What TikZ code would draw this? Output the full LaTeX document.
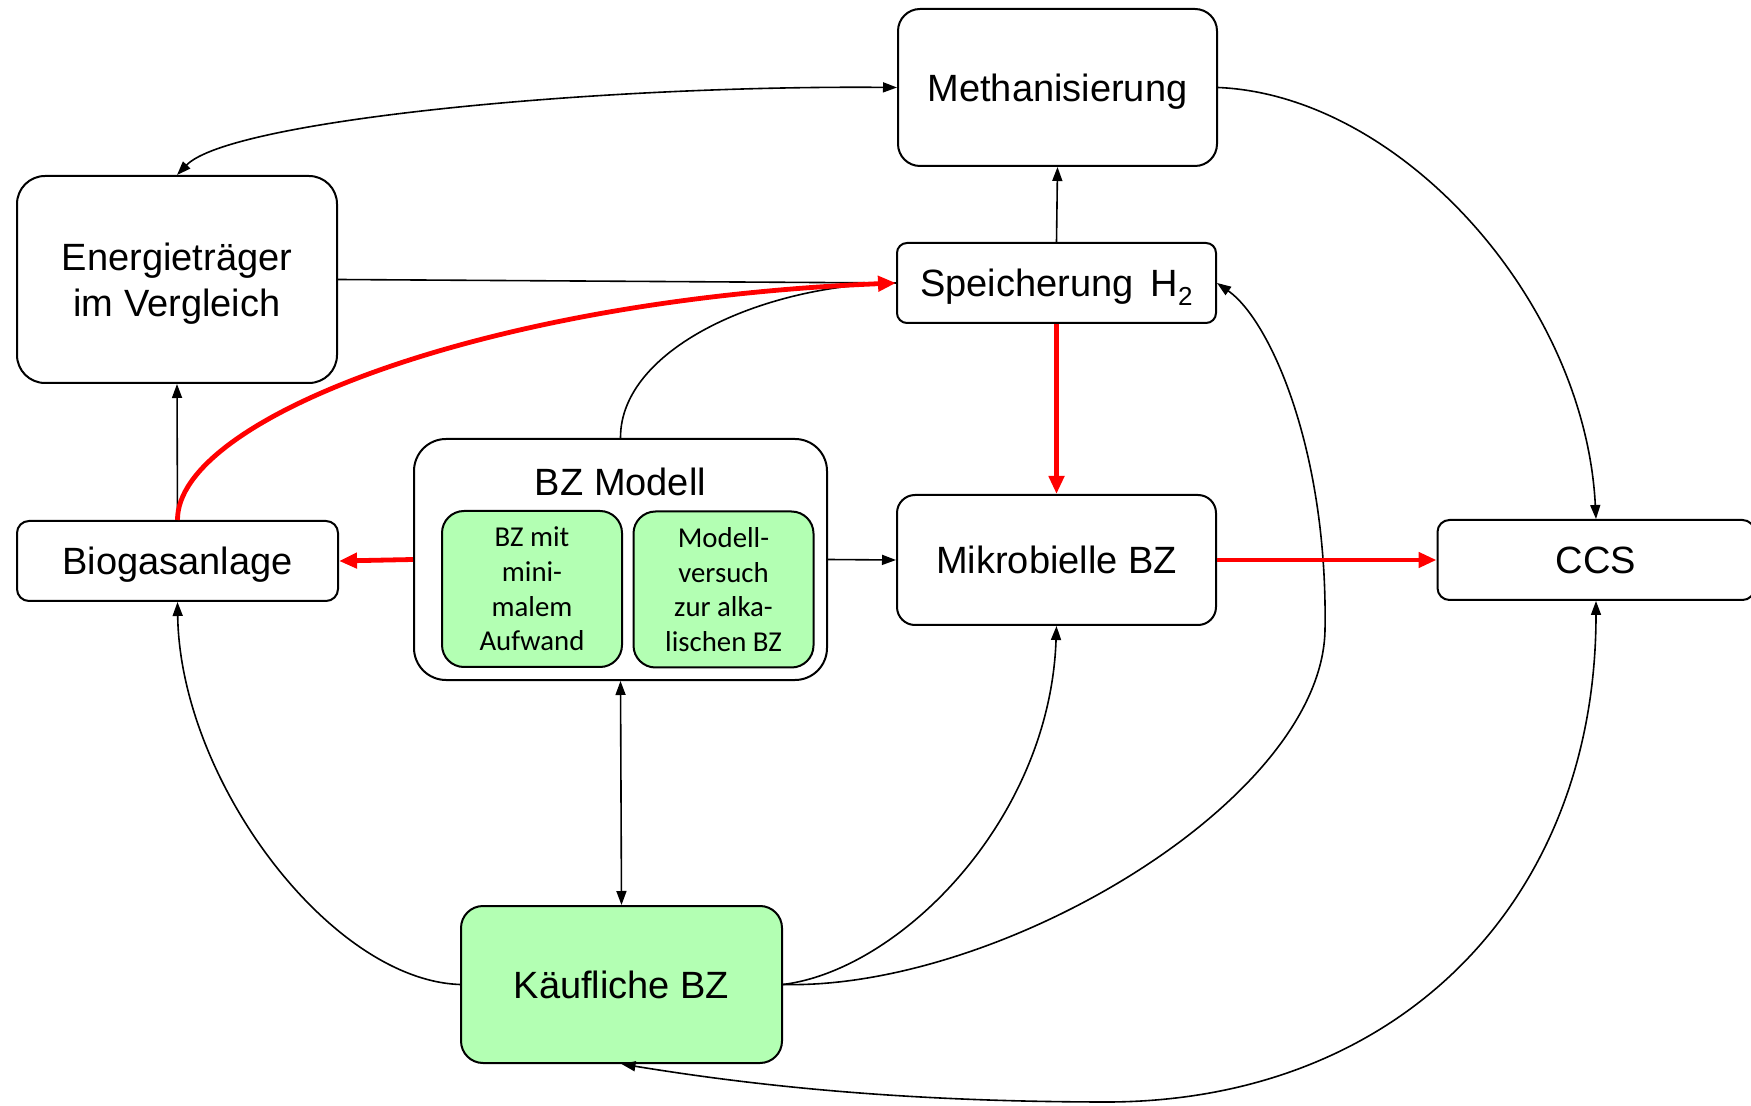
\documentclass[tikz,border=0pt]{standalone}
\usepackage{fontspec}
\setmainfont{Liberation Sans}
\newfontfamily\calib{Carlito}
\usetikzlibrary{arrows.meta}
\definecolor{boxgreen}{RGB}{179,255,179}
\definecolor{linkred}{RGB}{255,0,0}

\begin{document}
\begin{tikzpicture}[x=0.5pt,y=-0.5pt,
  box/.style={draw=black, line width=1pt, inner sep=0pt, align=center,
    font=\fontsize{19}{23}\selectfont},
  subbox/.style={box, fill=boxgreen, rounded corners=11pt,
    minimum width=90pt, minimum height=78pt,
    font=\calib\fontsize{14.4}{17.3}\selectfont},
  plain/.style={draw=black, line width=0.8pt},
  link/.style={plain, -{Triangle[length=7pt,width=5pt]}},
  both/.style={plain, {Triangle[length=7pt,width=5pt]}-{Triangle[length=7pt,width=5pt]}},
  hot/.style={draw=linkred, line width=2.4pt, -{Triangle[length=9pt,width=7.5pt]}}]

\useasboundingbox (0,0) rectangle (1751,1106);

% boxes
\node[box, rounded corners=11pt, minimum width=159.5pt, minimum height=78.5pt, text depth=0pt]
  (meth) at (1057.5,87.5) {Methanisierung};
\node[box, rounded corners=5pt, minimum width=159.5pt, minimum height=40pt, text depth=0pt]
  (spei) at (1056.5,283) {Speicherung\hspace{0.45em}H\raisebox{-0.45ex}{\fontsize{13}{13}\selectfont 2}};
\node[box, rounded corners=14pt, minimum width=160pt, minimum height=103.5pt, text depth=0pt]
  (energ) at (177,279.5) {Energieträger\\im Vergleich};
\node[box, rounded corners=6pt, minimum width=160.5pt, minimum height=40pt, text depth=0pt]
  (bio) at (177.5,561) {Biogasanlage};
\node[box, rounded corners=16pt, minimum width=206.5pt, minimum height=120.5pt]
  (model) at (620.5,559.5) {};
\node[font=\fontsize{19}{23}\selectfont, inner sep=0pt] (modeltitle) at (620.5,482) {BZ Modell};
\node[subbox] (simple) at (532,589) {BZ mit\\mini-\\malem\\Aufwand};
\node[subbox] (alkal) at (723.5,589.5) {Modell-\\versuch\\zur alka-\\lischen BZ};
\node[box, rounded corners=9pt, minimum width=159.5pt, minimum height=65pt]
  (mikro) at (1056.5,560) {Mikrobielle BZ};
\node[box, rounded corners=6pt, minimum width=158.5pt, minimum height=40pt]
  (ccs) at (1596,560) {CCS};
\node[box, fill=boxgreen, rounded corners=11pt, minimum width=160.5pt, minimum height=78.5pt]
  (kauf) at (621.5,984.5) {Käufliche BZ};

% helper points on the long curves
\coordinate (bend) at (1325,630);
\coordinate (low) at (1110,1102);

% black connectors
\draw[both] (energ.north) .. controls (230,120) and (600,85) .. (meth.west);
\draw[link] (meth.east) .. controls (1400,95) and (1585,300) .. (ccs.north);
\draw[link] (spei.north) -- (meth.south);
\draw[plain] (energ.east) -- (spei.west);
\draw[plain] (model.north) .. controls (620,350) and (760,285) .. (spei.west);
\draw[link] (bio.north) -- (energ.south);
\draw[link] (model.east) -- (mikro.west);
\draw[both] (model.south) -- (kauf.north);
\draw[link] (kauf.west) .. controls (330,980) and (180,780) .. (bio.south);
\draw[link] (kauf.east) .. controls (900,970) and (1050,820) .. (mikro.south);
\draw[link] (kauf.east) .. controls (1000,990) and (1322,800) .. (bend)
  .. controls (1328,450) and (1270,320) .. (spei.east);
\draw[both] (ccs.south) .. controls (1596,900) and (1400,1100) .. (low)
  .. controls (900,1102) and (750,1085) .. (kauf.south);

% red connectors
\draw[hot] (bio.north) .. controls (177,420) and (480,300) .. (spei.west);
\draw[hot] (spei.south) -- (mikro.north);
\draw[hot] (model.west) -- (bio.east);
\draw[hot] (mikro.east) -- (ccs.west);
\end{tikzpicture}
\end{document}
